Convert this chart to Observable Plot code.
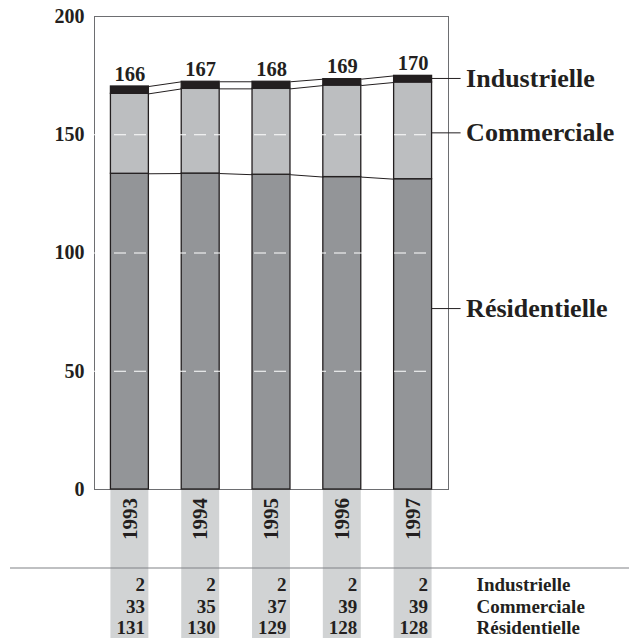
<!DOCTYPE html>
<html>
<head>
<meta charset="utf-8">
<script src="https://cdn.jsdelivr.net/npm/d3@7"></script>
<script src="https://cdn.jsdelivr.net/npm/@observablehq/plot@0.6"></script>
<style>
  html, body { margin: 0; padding: 0; background: #fff; }
</style>
</head>
<body>
<div id="chart"></div>
<script>
// ---- data ----
const years = [1993, 1994, 1995, 1996, 1997];
const totals = [166, 167, 168, 169, 170];
// table values (printed under the chart)
const tableIndustrielle = [2, 2, 2, 2, 2];
const tableCommerciale = [33, 35, 37, 39, 39];
const tableResidentielle = [131, 130, 129, 128, 128];
// bar segment heights as drawn in the picture
const barResidentielle = [133.5, 133.6, 133.1, 132.1, 131.2];
const barCommerciale = [33.8, 35.8, 36.3, 38.7, 40.9];
const barIndustrielle = [3.1, 3.0, 3.0, 2.7, 2.8];
const seriesNames = ["Résidentielle", "Commerciale", "Industrielle"];
const yTicks = [0, 50, 100, 150, 200];
const gridValues = [50, 100, 150];
// legend label anchor values (y units)
const legendY = [76.5, 150.8, 173.8];

// ---- styles ----
const ink = "#231f20";
const colors = {"Résidentielle": "#939598", "Commerciale": "#bcbec0", "Industrielle": "#231f20"};
const hw = 0.268;
const font = "'Liberation Serif', 'Times New Roman', serif";

const barVals = [barResidentielle, barCommerciale, barIndustrielle];
const segs = [];
const tops = seriesNames.map(() => []);
years.forEach((yr, i) => {
  let base = 0;
  seriesNames.forEach((t, j) => {
    const v = barVals[j][i];
    segs.push({year: yr, type: t, y1: base, y2: base + v});
    base += v;
    tops[j].push(base);
  });
});
const links = [];
seriesNames.forEach((t, j) => {
  for (let i = 0; i < years.length - 1; i++) {
    links.push({x1: years[i] + hw, y1: tops[j][i], x2: years[i + 1] - hw, y2: tops[j][i + 1]});
  }
});
const totalPts = years.map((yr, i) => ({year: yr, top: tops[2][i], total: totals[i]}));
const lastYear = years[years.length - 1];
const legend = seriesNames.map((n, j) => ({name: n, y: legendY[j]}));

const rows = [
  {vals: tableIndustrielle, label: "Industrielle", dy: 95.5},
  {vals: tableCommerciale, label: "Commerciale", dy: 117},
  {vals: tableResidentielle, label: "Résidentielle", dy: 138.5}
];

const tableMarks = rows.flatMap(r => [
  Plot.text(years, {x: d => d, text: (d, i) => String(r.vals[i]), frameAnchor: "bottom",
    dy: r.dy, dx: 15, textAnchor: "end", lineAnchor: "middle", fontSize: 19, fontWeight: "bold", fill: ink}),
  Plot.text([r.label], {text: d => d, frameAnchor: "bottom-right", dx: 28, dy: r.dy,
    textAnchor: "start", lineAnchor: "middle", fontSize: 19, fontWeight: "bold", fill: ink})
]);

const chart = Plot.plot({
  width: 629,
  height: 638,
  marginTop: 16,
  marginBottom: 149,
  marginLeft: 94,
  marginRight: 181,
  style: {fontFamily: font, fontWeight: "bold", color: ink, background: "#fff"},
  x: {type: "linear", domain: [1992.5, 1997.5], axis: null},
  y: {domain: [0, 200], axis: null},
  marks: [
    // gray columns under the year labels
    Plot.rect(years, {x1: d => d - hw, x2: d => d + hw, fill: "#d1d3d4", insetTop: 473, insetBottom: -149}),
    Plot.frame({stroke: "#6d6e71", strokeWidth: 1}),
    Plot.rect(segs, {x1: d => d.year - hw, x2: d => d.year + hw, y1: "y1", y2: "y2",
      fill: d => colors[d.type], stroke: ink, strokeWidth: 1.3}),
    Plot.ruleY(gridValues, {x1: 1992.5, x2: 1997.5, stroke: "#fff", strokeWidth: 1, strokeDasharray: "12,8"}),
    Plot.link(links, {x1: "x1", y1: "y1", x2: "x2", y2: "y2", stroke: ink, strokeWidth: 1}),
    Plot.axisY({ticks: yTicks, tickSize: 0, tickPadding: 10, fontSize: 20, fontWeight: "bold", label: null}),
    Plot.text(totalPts, {x: "year", y: "top", text: d => String(d.total), dy: -6, lineAnchor: "bottom",
      fontSize: 20.5, fontWeight: "bold", fill: ink}),
    // right-side series labels with leader lines
    Plot.ruleY(legend, {y: "y", x1: lastYear + hw, x2: lastYear + hw + 0.41, stroke: ink, strokeWidth: 1}),
    Plot.text(legend, {x: lastYear + hw + 0.41, y: "y", text: "name", dx: 5, textAnchor: "start",
      lineAnchor: "middle", fontSize: 26, fontWeight: "bold", fill: ink}),
    // year labels
    Plot.text(years, {x: d => d, text: d => String(d), frameAnchor: "bottom", dy: 29.5, rotate: -90,
      textAnchor: "middle", lineAnchor: "middle", fontSize: 21, fontWeight: "bold", fill: ink}),
    // separator line
    Plot.ruleY([0], {dy: 78.5, insetLeft: -84, insetRight: -181, stroke: "#808285", strokeWidth: 1.2}),
    ...tableMarks
  ]
});
document.getElementById("chart").appendChild(chart);
</script>
</body>
</html>
